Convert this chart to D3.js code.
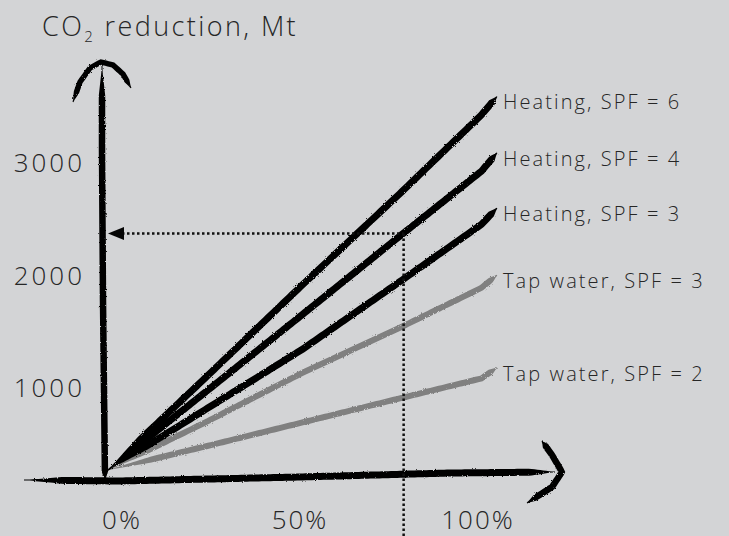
<!DOCTYPE html>
<html>
<head>
<meta charset="utf-8">
<script src="https://cdn.jsdelivr.net/npm/d3@7"></script>
<style>
	body { margin: 0; background: #d3d4d6; }
	svg { display: block; }
	text { font-family: 'Open Sans', sans-serif; font-weight: 300; fill: #262626; }
</style>
</head>
<body>
<svg class="chart" width="729" height="536"></svg>
<script>
/** DATA **/
// share of heat pumps, %
let shares = [0, 25, 50, 75, 96, 100];
let seriesNames = ['Heating, SPF = 6', 'Heating, SPF = 4', 'Heating, SPF = 3', 'Tap water, SPF = 3', 'Tap water, SPF = 2'];
// CO2 reduction, Mt
let heating6 = [0, 900, 1810, 2700, 3470, 3650];
let heating4 = [0, 760, 1520, 2285, 2920, 3100];
let heating3 = [0, 590, 1180, 1840, 2400, 2560];
let tapWater3 = [0, 465, 950, 1390, 1780, 1905];
let tapWater2 = [0, 230, 465, 700, 895, 1000];
let seriesColors = ['#050505', '#050505', '#050505', '#808080', '#808080'];
let yTicks = [1000, 2000, 3000];
let xTicks = [0, 50, 100];
let markerShare = 76;
let markerValue = 2310;

/** CONSTANTS **/
let width = 729, height = 536;
let x = d3.scaleLinear().domain([0, 100]).range([108, 497]);
let y = d3.scaleLinear().domain([0, 3000]).range([470, 163]);
// hand placed tick labels sit a bit off the plotting scale
let xLabel = d3.scaleLinear().domain([0, 100]).range([122, 478]);
let yLabel = d3.scaleLinear().domain([1000, 3000]).range([388, 163]);

let svg = d3.select('.chart');

// rough edge filter for the brush strokes
let defs = svg.append('defs');
let rough = defs.append('filter').attr('id', 'rough').attr('x', '-5%').attr('y', '-5%').attr('width', '110%').attr('height', '110%');
rough.append('feTurbulence').attr('type', 'fractalNoise').attr('baseFrequency', 0.9).attr('numOctaves', 2).attr('result', 'noise');
rough.append('feDisplacementMap').attr('in', 'SourceGraphic').attr('in2', 'noise').attr('scale', 2.5);

// build a tapered brush outline along some pixel points
function brushPath(pts, w, taperIn, taperOut) {
	let dense = [];
	for (let i = 0; i < pts.length - 1; i++) {
		let a = pts[i], b = pts[i + 1];
		let n = Math.max(1, Math.ceil(Math.hypot(b[0] - a[0], b[1] - a[1]) / 3));
		for (let k = 0; k < n; k++) dense.push([a[0] + (b[0] - a[0]) * k / n, a[1] + (b[1] - a[1]) * k / n]);
	}
	dense.push(pts[pts.length - 1]);
	let len = [0];
	for (let i = 1; i < dense.length; i++) {
		len.push(len[i - 1] + Math.hypot(dense[i][0] - dense[i - 1][0], dense[i][1] - dense[i - 1][1]));
	}
	let total = len[len.length - 1];
	let left = [], right = [];
	dense.forEach(function(p, i) {
		let a = dense[Math.max(0, i - 1)], b = dense[Math.min(dense.length - 1, i + 1)];
		let dx = b[0] - a[0], dy = b[1] - a[1], d = Math.hypot(dx, dy) || 1;
		let nx = -dy / d, ny = dx / d;
		let f = Math.min(1, len[i] / taperIn, (total - len[i]) / taperOut);
		let hw = Math.max(0.5, w * f / 2);
		left.push([p[0] + nx * hw, p[1] + ny * hw]);
		right.push([p[0] - nx * hw, p[1] - ny * hw]);
	});
	let ring = left.concat(right.reverse());
	return d3.line().curve(d3.curveLinearClosed)(ring);
}

/** AXES **/
let axes = svg.append('g').attr('filter', 'url(#rough)').attr('fill', '#050505');

// y axis with arched arrow head
axes.append('path').attr('d', brushPath([[105, 480], [103, 300], [102, 150], [102, 66]], 6.5, 8, 30));
axes.append('path').attr('d', brushPath([[73, 102], [80, 82], [90, 68], [101, 62], [113, 65], [123, 74], [131, 88]], 5.5, 10, 8));

// x axis with bent arrow head
axes.append('path').attr('d', brushPath([[24, 480], [120, 481], [300, 477], [450, 473], [555, 472]], 7, 40, 25));
axes.append('path').attr('d', brushPath([[542, 441], [552, 455], [562, 472], [552, 487], [527, 503]], 6.5, 6, 10));

/** SERIES **/
let series = [heating6, heating4, heating3, tapWater3, tapWater2];
let lines = svg.append('g').attr('filter', 'url(#rough)');

// grey ones first so the black strokes sit on top
[3, 4, 0, 1, 2].forEach(function(s) {
	let pts = shares.map(function(d, i) { return [x(d), y(series[s][i])]; });
	lines.append('path')
		.attr('d', brushPath(pts, s < 3 ? 7 : 6, 45, 8))
		.attr('fill', seriesColors[s]);
});

// series labels at the line ends
svg.append('g').selectAll('text')
	.data(seriesNames)
	.enter()
	.append('text')
	.attr('x', x(100) + 6)
	.attr('y', function(d, i) { return y(series[i][series[i].length - 1]) + 6; })
	.attr('dy', '0.35em')
	.style('font-size', '20px')
	.style('letter-spacing', '2.1px')
	.text(function(d) { return d; });

/** MARKER **/
let marker = svg.append('g').attr('stroke', '#111').attr('stroke-width', 2.5).attr('stroke-dasharray', '2.5,2.5').attr('fill', 'none');
marker.append('line')
	.attr('x1', x(0) + 14).attr('x2', x(markerShare))
	.attr('y1', y(markerValue)).attr('y2', y(markerValue));
marker.append('line')
	.attr('x1', x(markerShare)).attr('x2', x(markerShare))
	.attr('y1', y(markerValue)).attr('y2', height);
svg.append('path')
	.attr('d', 'M' + x(0) + ',' + y(markerValue) + 'l16,-6.5v13z')
	.attr('fill', '#050505');

/** TICK LABELS **/
svg.append('g').selectAll('text')
	.data(yTicks)
	.enter()
	.append('text')
	.attr('x', 85)
	.attr('y', function(d) { return yLabel(d); })
	.attr('dy', '0.35em')
	.attr('text-anchor', 'end')
	.style('font-size', '26px')
	.style('letter-spacing', '3px')
	.text(function(d) { return d; });

svg.append('g').selectAll('text')
	.data(xTicks)
	.enter()
	.append('text')
	.attr('x', function(d) { return xLabel(d); })
	.attr('y', 520)
	.attr('dy', '0.35em')
	.attr('text-anchor', 'middle')
	.style('font-size', '26px')
	.style('letter-spacing', '2px')
	.text(function(d) { return d + '%'; });

/** TITLE **/
let title = svg.append('text')
	.attr('x', 42)
	.attr('y', 36)
	.style('font-size', '27px')
	.style('letter-spacing', '2.4px');
title.append('tspan').text('CO');
title.append('tspan').attr('dy', 6).style('font-size', '15px').text('2');
title.append('tspan').attr('dy', -6).text(' reduction, Mt');
</script>
</body>
</html>
